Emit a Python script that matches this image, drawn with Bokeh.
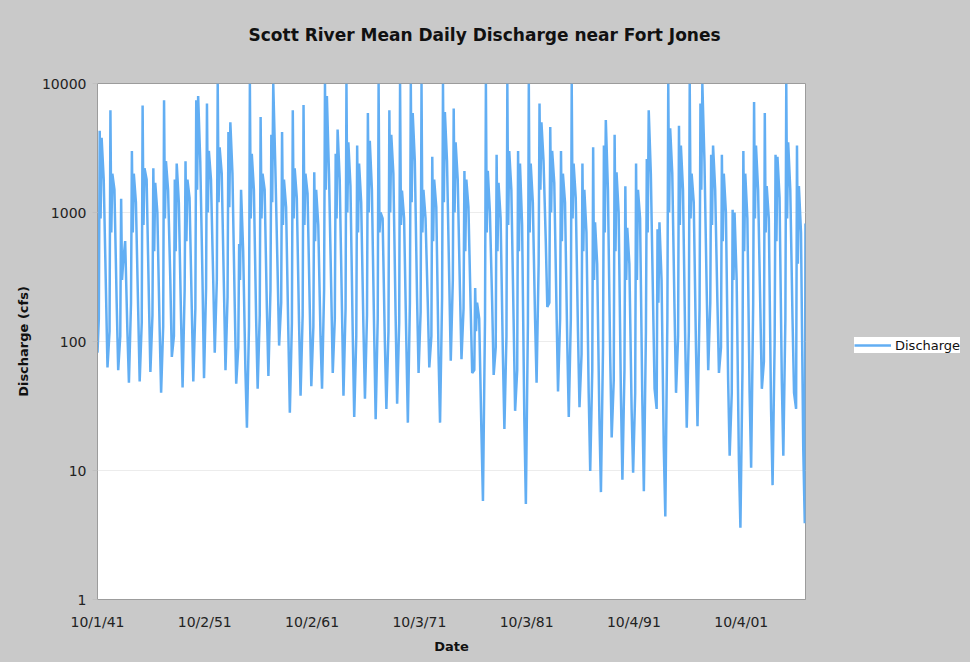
import pandas as pd
from bokeh.plotting import figure
from bokeh.layouts import row
from bokeh.models import FixedTicker, Range1d, Legend, LegendItem, Title, ColumnDataSource
from bokeh.embed import file_html
from bokeh.resources import INLINE

# ---- data (cfs); water years 1942..2007 ----
water_years = list(range(1942, 2008))
start_value = 82      # 10/1/1941
end_value = 820       # last day shown

fall = [150, 120, 110, 200, 140, 160, 130, 110, 250, 180, 260,
        300, 220, 90, 130, 160, 250, 200, 140, 160, 130, 250,
        150, 180, 110, 160, 150, 120, 140, 200, 170, 110, 220,
        300, 180, 60, 150, 90, 110, 60, 140, 400, 200, 150,
        150, 80, 60, 90, 50, 60, 40, 120, 30, 150, 110,
        120, 180, 200, 90, 40, 60, 200, 70, 100, 150, 30]
peak_a = [4300, 6200, 1280, 3000, 6760, 2200, 7400, 1800, 2500, 7400, 7000,
          10000, 4200, 570, 10000, 5500, 4000, 4200, 6200, 6800, 2050, 10000,
          2850, 10000, 3300, 5900, 10000, 6200, 10000, 10000, 10000, 2700, 10000,
          6400, 2100, 260, 10000, 2800, 10000, 3000, 10000, 7000, 4600, 3000,
          10000, 2400, 3200, 3300, 4000, 1600, 2400, 2600, 740, 10000, 4700,
          10000, 7000, 2800, 2800, 1050, 3000, 7200, 5900, 2800, 10000, 3300]
dip = [900, 700, 300, 700, 800, 500, 900, 500, 600, 1500, 1000,
       1200, 1100, 300, 900, 900, 1200, 800, 900, 800, 600, 1500,
       900, 1000, 700, 1000, 700, 1000, 800, 1200, 700, 600, 1200,
       1000, 500, 120, 700, 500, 800, 500, 700, 1500, 1000, 600,
       900, 500, 300, 700, 500, 300, 300, 700, 200, 1000, 800,
       900, 1500, 800, 600, 300, 500, 900, 700, 600, 900, 400]
peak_b = [3800, 2000, 400, 2000, 2200, 1700, 2500, 2400, 1800, 8000, 3000,
          3200, 5000, 1500, 2850, 2000, 10000, 1800, 2200, 2000, 1500, 8000,
          4400, 3500, 2400, 3600, 1000, 4000, 1480, 5900, 1500, 1800, 6000,
          3500, 1800, 200, 2100, 1700, 3000, 2400, 2400, 5000, 3000, 2000,
          2400, 1500, 840, 5200, 2050, 760, 1500, 6200, 840, 4500, 3300,
          2000, 10000, 3300, 2000, 1000, 2000, 3300, 1600, 2700, 3500, 1600]
spring = [1800, 1500, 600, 1200, 1800, 1000, 1500, 1200, 1300, 2500, 1800,
          2000, 2000, 500, 1500, 1500, 2200, 1100, 1300, 1400, 800, 2000,
          1800, 1600, 1200, 1500, 900, 2000, 900, 2500, 900, 1100, 2500,
          1800, 1100, 150, 1000, 900, 1500, 800, 1200, 2500, 1700, 1200,
          1300, 700, 400, 1500, 1000, 400, 900, 2000, 300, 2000, 1500,
          1200, 2500, 1500, 1000, 300, 900, 1500, 900, 1300, 1500, 700]
summer = [250, 200, 120, 180, 220, 130, 300, 150, 180, 300, 300,
          250, 200, 60, 150, 180, 350, 120, 140, 180, 110, 250,
          180, 120, 130, 120, 100, 160, 100, 220, 200, 80, 300,
          250, 180, 20, 200, 80, 150, 25, 150, 600, 180, 100,
          120, 40, 25, 80, 40, 30, 35, 200, 15, 180, 100,
          90, 250, 200, 50, 12, 40, 180, 30, 50, 150, 15]
low = [63, 60, 48, 49, 58, 40, 76, 44, 49, 52, 82,
       60, 47, 21.5, 43, 54, 93, 28, 38, 45, 43, 57,
       38, 26, 36, 25, 30, 33, 23.5, 57, 63, 23.5, 71,
       73, 57, 5.8, 55, 21, 29, 5.5, 48, 185, 41, 26,
       31, 9.9, 6.8, 18, 8.5, 9.6, 6.9, 43, 4.4, 40, 21.5,
       22, 60, 57, 13, 3.6, 10.5, 43, 7.7, 13, 40, 3.9]

tick_dates = ["1941-10-01", "1951-10-02", "1961-10-02", "1971-10-03",
              "1981-10-03", "1991-10-04", "2001-10-04"]
tick_labels = ["10/1/41", "10/2/51", "10/2/61", "10/3/71",
               "10/3/81", "10/4/91", "10/4/01"]
y_ticks = [1, 10, 100, 1000, 10000]

# ---- build the series (day offsets within each water year) ----
phase_days = [45, 75, 105, 140, 212, 288, 340]
dates = [pd.Timestamp("1941-10-01")]
values = [start_value]
for i, wy in enumerate(water_years):
    base = pd.Timestamp(wy - 1, 10, 1)
    seq = [fall[i], peak_a[i], dip[i], peak_b[i], spring[i], summer[i], low[i]]
    for d, v in zip(phase_days, seq):
        dates.append(base + pd.Timedelta(days=d))
        values.append(v)
dates.append(pd.Timestamp("2007-09-30"))
values.append(end_value)

src = ColumnDataSource(dict(date=dates, q=values))

BG = "#c9c9c9"
FONT = "DejaVu Sans"
LINE = "#62aef3"

p = figure(width=813, height=662, output_backend="svg", toolbar_location=None,
           x_axis_type="datetime", y_axis_type="log",
           x_range=Range1d(pd.Timestamp("1941-10-01"), pd.Timestamp("2007-10-01")),
           y_range=Range1d(1, 10000),
           min_border_left=97, min_border_right=8, min_border_top=83, min_border_bottom=63)
p.background_fill_color = "white"
p.border_fill_color = BG
p.outline_line_color = "#9c9c9c"
p.outline_line_width = 1
p.title.text = ""

r = p.line("date", "q", source=src, line_color=LINE, line_width=2.5)

# title: a blank spacer next to the frame, then the title above it
p.add_layout(Title(text=" ", text_font_size="10px", standoff=26,
                   text_color=BG), "above")
p.add_layout(Title(text="Scott River Mean Daily Discharge near Fort Jones",
                   align="left", offset=151, vertical_align="bottom", standoff=0,
                   text_font=FONT, text_font_size="17px", text_font_style="bold",
                   text_color="#111111"), "above")

# axes
tick_ms = [pd.Timestamp(d).value / 1e6 for d in tick_dates]
p.xaxis.ticker = FixedTicker(ticks=tick_ms)
p.xaxis.major_label_overrides = {t: lab for t, lab in zip(tick_ms, tick_labels)}
p.yaxis.ticker = FixedTicker(ticks=y_ticks)
p.yaxis.major_label_overrides = {t: str(t) for t in y_ticks}

for ax in (p.xaxis[0], p.yaxis[0]):
    ax.axis_line_color = "#9c9c9c"
    ax.major_label_text_font = FONT
    ax.major_label_text_font_size = "14px"
    ax.major_label_text_color = "#222222"
    ax.minor_tick_line_color = None
    ax.axis_label_text_font = FONT
    ax.axis_label_text_font_size = "13px"
    ax.axis_label_text_font_style = "bold"
    ax.axis_label_text_color = "#111111"

p.xaxis.axis_label = "Date"
p.xaxis.major_tick_line_color = None
p.xaxis.major_label_standoff = 8
p.xaxis.axis_label_standoff = 6
p.yaxis.axis_label = "Discharge (cfs)"
p.yaxis.major_tick_line_color = "#c0c0c0"
p.yaxis.major_tick_in = 0
p.yaxis.major_tick_out = 5
p.yaxis.major_label_standoff = 6
p.yaxis.axis_label_standoff = 8

p.xgrid.grid_line_color = None
p.ygrid.grid_line_color = "#ececec"

# legend lives in a narrow companion panel to the right of the plot area;
# its key line uses the same series, kept out of that panel's (unused) view
q = figure(width=157, height=662, output_backend="svg", toolbar_location=None,
           x_range=Range1d(0, 1), y_range=Range1d(0, 1),
           x_axis_location=None, y_axis_location=None,
           min_border_left=0, min_border_right=0, min_border_top=0, min_border_bottom=0)
q.background_fill_color = BG
q.border_fill_color = BG
q.outline_line_color = None
q.grid.visible = False
q.title.text = ""
key = q.line("date", "q", source=src, line_color=LINE, line_width=2.5)

legend = Legend(items=[LegendItem(label="Discharge", renderers=[key])],
                location=(41, 246), orientation="vertical",
                background_fill_color="white", background_fill_alpha=1.0,
                border_line_color=None, label_text_font=FONT,
                label_text_font_size="13px", label_text_color="#111111",
                glyph_width=37, glyph_height=16, label_standoff=4,
                padding=4, margin=0, spacing=0)
q.add_layout(legend, "center")

layout = row(p, q, spacing=0, styles={"background-color": BG})
open("out.html", "w").write(file_html(layout, INLINE))
